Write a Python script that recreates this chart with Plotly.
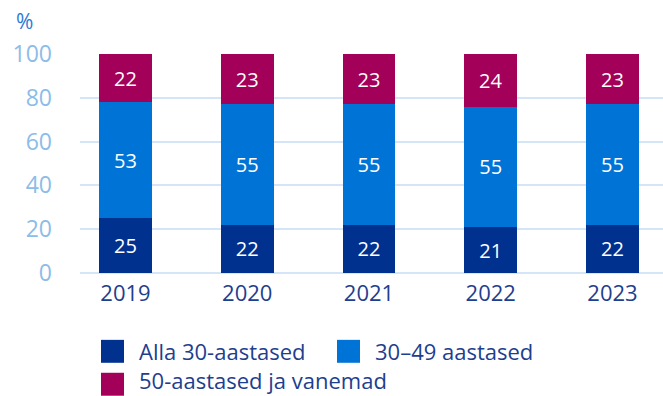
import plotly.graph_objects as go

# Age structure by year, percent
years = ["2019", "2020", "2021", "2022", "2023"]
under_30 = [25, 22, 22, 21, 22]
age_30_49 = [53, 55, 55, 55, 55]
age_50_plus = [22, 23, 23, 24, 23]

series_names = ["Alla 30-aastased", "30–49 aastased", "50-aastased ja vanemad"]
series_colors = ["#00318F", "#0074D6", "#A3005A"]
y_ticks = [0, 20, 40, 60, 80, 100]

W, H = 663, 396
M_L, M_R, M_T, M_B = 80, 0, 54, 122.5
PW, PH = W - M_L - M_R, H - M_T - M_B
FONT = "Open Sans"
TICK_COLOR = "#8CBCE8"
GRID_COLOR = "#D3E5F6"
TEXT_DARK = "#1E3E8E"


def px_x(px):
    return (px - M_L) / PW


def px_y(py):
    return (H - M_B - py) / PH


fig = go.Figure()
for name, vals, color in zip(series_names, [under_30, age_30_49, age_50_plus], series_colors):
    fig.add_trace(go.Bar(
        x=years, y=vals, name=name,
        marker=dict(color=color, line=dict(width=0)),
        text=vals, textposition="inside", insidetextanchor="middle",
        textfont=dict(color="white", size=20, family=FONT),
        width=0.435, showlegend=False, cliponaxis=False,
    ))

# Custom legend: square swatches with labels (swatch x, swatch centre y, text x, text centre y)
legend_items = [
    (101, 352, 138, 352),
    (337, 352, 374, 352),
    (101, 385, 138, 381),
]
for (sx, cy, tx, ty), name, color in zip(legend_items, series_names, series_colors):
    fig.add_shape(type="rect", xref="paper", yref="paper",
                  x0=px_x(sx), x1=px_x(sx + 23), y0=px_y(cy - 11.5), y1=px_y(cy + 11.5),
                  fillcolor=color, line=dict(width=0))
    fig.add_annotation(xref="paper", yref="paper", x=px_x(tx), y=px_y(ty),
                       text=name, showarrow=False, xanchor="left", yanchor="middle",
                       borderpad=0,
                       font=dict(size=22, color=TEXT_DARK, family=FONT))

# Unit label
fig.add_annotation(xref="paper", yref="paper", x=px_x(25), y=px_y(21),
                   text="%", showarrow=False, xanchor="center", yanchor="middle",
                   font=dict(size=21, color="#2B7BD3", family=FONT))

fig.update_layout(
    width=W, height=H,
    margin=dict(l=M_L, r=M_R, t=M_T, b=M_B, pad=0),
    barmode="stack",
    paper_bgcolor="white", plot_bgcolor="white",
    font=dict(family=FONT),
    xaxis=dict(
        type="category", range=[-0.374, 4.415],
        showgrid=False, zeroline=False, showline=False, ticks="",
        tickfont=dict(size=22, color=TEXT_DARK, family=FONT),
        ticklabelstandoff=5,
    ),
    yaxis=dict(
        range=[0, 100], tickvals=y_ticks,
        showgrid=True, gridcolor=GRID_COLOR, gridwidth=1.5,
        zeroline=True, zerolinecolor=GRID_COLOR, zerolinewidth=1.5,
        showline=False, ticks="",
        tickfont=dict(size=23, color=TICK_COLOR, family=FONT),
        ticklabelstandoff=27,
    ),
)

fig.write_html("out.html")
